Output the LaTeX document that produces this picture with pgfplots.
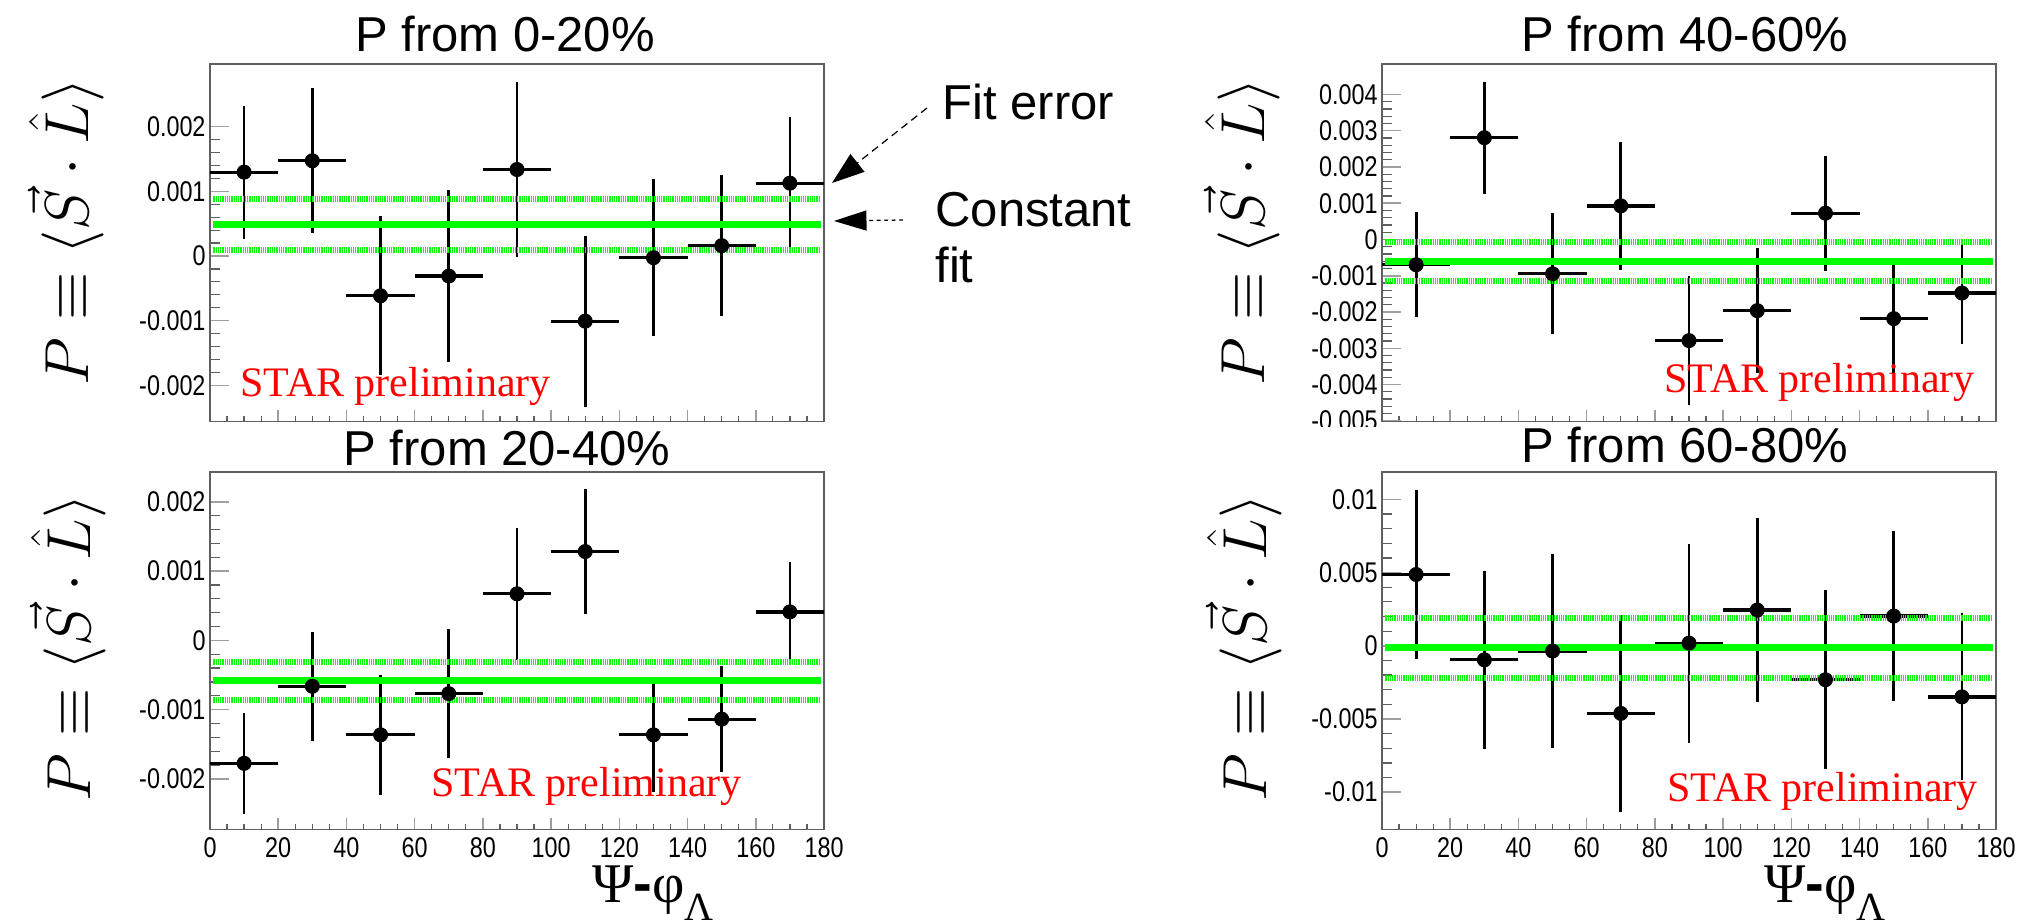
\documentclass[border=0pt]{standalone}
\usepackage{fontspec}
\setmainfont{Liberation Sans}
\newfontfamily\serif{Liberation Serif}
\newfontfamily\tickfont[FakeStretch=0.82]{Liberation Sans}
\usepackage{pgfplots}
\pgfplotsset{compat=1.18}
\usepackage{pgfplotstable}
\usetikzlibrary{arrows.meta}

\definecolor{fitgreen}{RGB}{0,255,0}
\definecolor{framegray}{RGB}{95,95,95}

% Polarisation per bin of Psi - phi_Lambda: bin centre, value, error
\pgfplotstableread{
x y e
10 0.001297 0.00103
30 0.001473 0.00112
50 -0.000615 0.00123
70 -0.000310 0.00133
90 0.001338 0.00136
110 -0.001008 0.00132
130 -0.000026 0.00121
150 0.000160 0.00109
170 0.001127 0.00102
}\centA
\pgfplotstableread{
x y e
10 -0.000697 0.00145
30 0.002807 0.00154
50 -0.000945 0.00167
70 0.000927 0.00177
90 -0.002789 0.00178
110 -0.001963 0.00172
130 0.000725 0.00159
150 -0.002183 0.00150
170 -0.001477 0.00141
}\centC
\pgfplotstableread{
x y e
10 -0.001775 0.00073
30 -0.000663 0.00079
50 -0.001364 0.00087
70 -0.000769 0.00093
90 0.000672 0.00095
110 0.001282 0.00090
130 -0.001364 0.00083
150 -0.001137 0.00076
170 0.000411 0.00072
}\centB
\pgfplotstableread{
x y e
10 0.00487 0.0058
30 -0.00096 0.0061
50 -0.00036 0.0066
70 -0.00462 0.0067
90 0.00018 0.0068
110 0.00244 0.0063
130 -0.00232 0.0061
150 0.00203 0.0058
170 -0.00349 0.0057
}\centD

\pgfplotsset{
  rootpanel/.style={
    scale only axis, width=245.6pt, height=143pt, anchor=north west,
    xmin=0, xmax=180, xtick={0,20,...,180}, minor x tick num=3,
    minor y tick num=4,
    tick align=inside, xtick pos=bottom, ytick pos=left,
    scaled y ticks=false,
    axis line style={draw=framegray, line width=0.6pt},
    major tick length=7.6pt, minor tick length=4pt,
    every x tick/.append style={/pgfplots/major tick length=4.8pt,/pgfplots/minor tick length=2.4pt},
    every major tick/.append style={draw=gray!75, line width=0.6pt},
    every minor tick/.append style={draw=framegray, line width=0.5pt},
    tick label style={font=\tickfont\fontsize{11.4pt}{13pt}\selectfont},
    /pgf/number format/assume math mode=true,
    yticklabel style={/pgf/number format/fixed, /pgf/number format/precision=3, inner sep=1.6pt},
    xticklabel style={inner sep=3.2pt},
  },
  hbars/.style={only marks, mark=none, black,
    error bars/.cd, x dir=both, x fixed=10, error mark=none,
    error bar style={line width=1.3pt, black}},
  vbars/.style={only marks, mark=*, mark size=2.8pt, black,
    error bars/.cd, y dir=both, y explicit, error mark=none,
    error bar style={line width=1.1pt, black}},
  fitline/.style={fitgreen, line width=2.8pt, no marks},
  fiterr/.style={fitgreen, line width=2.4pt, no marks, dash pattern=on 0.5pt off 0.4pt},
}

\begin{document}
\begin{tikzpicture}
\useasboundingbox (0,0) rectangle (808pt,-369.2pt);

% 0-20%
\begin{axis}[rootpanel, at={(84pt,-25.6pt)},
  ymin=-0.00256, ymax=0.00297,
  ytick={-0.002,-0.001,0,0.001,0.002}, xticklabels={}]
  \addplot[hbars] table[x=x,y=y]{\centA};
  \addplot[vbars] table[x=x,y=y,y error=e]{\centA};
  \addplot[fiterr] coordinates {(1,0.00088) (179,0.00088)};
  \addplot[fiterr] coordinates {(1,0.00010) (179,0.00010)};
  \addplot[fitline] coordinates {(1,0.00049) (179,0.00049)};
\end{axis}

% 40-60%
\begin{axis}[rootpanel, at={(552.8pt,-25.6pt)},
  ymin=-0.00502, ymax=0.00484,
  ytick={-0.005,-0.004,-0.003,-0.002,-0.001,0,0.001,0.002,0.003,0.004}, xticklabels={}]
  \addplot[hbars] table[x=x,y=y]{\centC};
  \addplot[vbars] table[x=x,y=y,y error=e]{\centC};
  \addplot[fiterr] coordinates {(1,-0.000069) (179,-0.000069)};
  \addplot[fiterr] coordinates {(1,-0.001143) (179,-0.001143)};
  \addplot[fitline] coordinates {(1,-0.000606) (179,-0.000606)};
\end{axis}

% 20-40%
\begin{axis}[rootpanel, at={(84pt,-188.8pt)},
  ymin=-0.00273, ymax=0.00243,
  ytick={-0.002,-0.001,0,0.001,0.002}]
  \addplot[hbars] table[x=x,y=y]{\centB};
  \addplot[vbars] table[x=x,y=y,y error=e]{\centB};
  \addplot[fiterr] coordinates {(1,-0.00031) (179,-0.00031)};
  \addplot[fiterr] coordinates {(1,-0.00086) (179,-0.00086)};
  \addplot[fitline] coordinates {(1,-0.000585) (179,-0.000585)};
\end{axis}

% 60-80%
\begin{axis}[rootpanel, at={(552.8pt,-188.8pt)},
  ymin=-0.01255, ymax=0.01187,
  ytick={-0.01,-0.005,0,0.005,0.01}]
  \addplot[hbars] table[x=x,y=y]{\centD};
  \addplot[vbars] table[x=x,y=y,y error=e]{\centD};
  \addplot[fiterr] coordinates {(1,0.00192) (179,0.00192)};
  \addplot[fiterr] coordinates {(1,-0.00220) (179,-0.00220)};
  \addplot[fitline] coordinates {(1,-0.00014) (179,-0.00014)};
\end{axis}

% titles, labels and notes, in pixel-like units from the top left
\begin{scope}[x=0.4pt,y=-0.4pt]
  % the upper right pad ends just below its lowest tick label
  \fill[white] (1290,427) rectangle (1381,445);

  \def\titlefont{\fontsize{19.6pt}{22pt}\selectfont}
  \node[anchor=base,inner sep=0] at (505,52) {\titlefont P from 0-20\%};
  \node[anchor=base,inner sep=0] at (1685,52) {\titlefont P from 40-60\%};
  \node[anchor=base,inner sep=0] at (507,466) {\titlefont P from 20-40\%};
  \node[anchor=base,inner sep=0] at (1685,463) {\titlefont P from 60-80\%};

  \def\ylab{\fontsize{23pt}{26pt}\selectfont $P \equiv \langle \vec{S}\cdot\hat{L}\rangle$}
  \node[rotate=90] at (66,232) {\ylab};
  \node[rotate=90] at (1242,232) {\ylab};
  \node[rotate=90] at (68,648) {\ylab};
  \node[rotate=90] at (1244,648) {\ylab};

  \def\xlab{{\fontsize{22.4pt}{26pt}\selectfont\serif Ψ}{\fontsize{22.4pt}{26pt}\selectfont\bfseries -}{\fontsize{22.4pt}{26pt}\selectfont\serif φ}\raisebox{-7pt}{\fontsize{16pt}{18pt}\selectfont\serif Λ}}
  \node[anchor=base west,inner sep=0] at (592,903) {\xlab};
  \node[anchor=base west,inner sep=0] at (1764,903) {\xlab};

  \def\star{\color{red}\fontsize{16.8pt}{19pt}\selectfont\serif STAR preliminary}
  \node[anchor=base west,inner sep=0] at (240,397) {\star};
  \node[anchor=base west,inner sep=0] at (1664,393) {\star};
  \node[anchor=base west,inner sep=0] at (431,797) {\star};
  \node[anchor=base west,inner sep=0] at (1667,802) {\star};

  \def\notefont{\fontsize{19.6pt}{22pt}\selectfont}
  \node[anchor=base west,inner sep=0] at (942,120) {\notefont Fit error};
  \node[anchor=base west,inner sep=0] at (935,227) {\notefont Constant};
  \node[anchor=base west,inner sep=0] at (935,283) {\notefont fit};
  \draw[line width=0.5pt, dash pattern=on 3pt off 2pt, -{Triangle[length=13pt,width=9pt]}] (927,108) -- (832,183);
  \draw[line width=0.5pt, dash pattern=on 1.5pt off 1.5pt, -{Triangle[length=13pt,width=8pt]}] (903,220) -- (834,221);
\end{scope}
\end{tikzpicture}
\end{document}
